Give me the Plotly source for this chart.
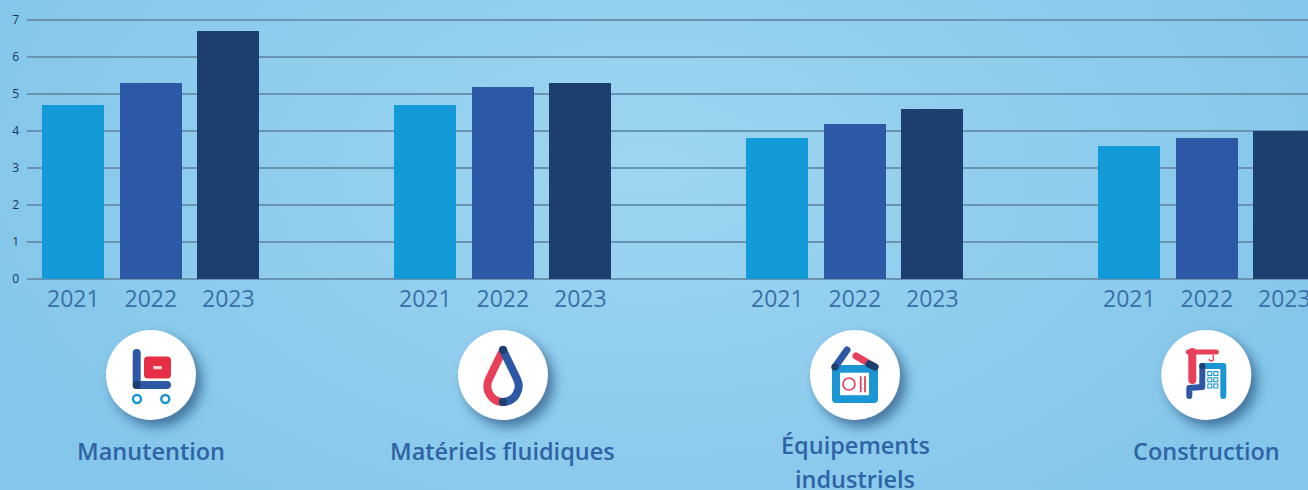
import base64
import plotly.graph_objects as go

categories = ["Manutention", "Matériels fluidiques", "Équipements<br>industriels", "Construction"]
years = ["2021", "2022", "2023"]
v2021 = [4.7, 4.7, 3.8, 3.6]
v2022 = [5.3, 5.2, 4.2, 3.8]
v2023 = [6.7, 5.3, 4.6, 4.0]
series = [v2021, v2022, v2023]
bar_colors = ["#129bd8", "#2c58a6", "#1d3f70"]
y_ticks = [0, 1, 2, 3, 4, 5, 6, 7]

W, H = 1308, 490
FIG_W = 1330  # canvas runs past the window, so the last bar and label are cut by it
L, T, B = 27, 15, 211
RIGHT = 4
SLOT = 77.5
STEP = 352 / SLOT
X0 = 73.3  # pixel of first bar centre
PX_PER_UNIT = 37
ICON_CX = [151, 503, 855, 1206.3]
ICON_CY = 375
BLUE, DARK, RED, CYAN = "#2c58a6", "#1d3f70", "#e8405a", "#1a96d4"

def line(pts, col, w):
    d = "M" + " L".join(f"{x},{y}" for x, y in pts)
    return f'<path d="{d}" fill="none" stroke="{col}" stroke-width="{w}" stroke-linecap="round" stroke-linejoin="round"/>'

icon_manut = (
    f'<rect x="-7" y="-18.5" width="27" height="22" rx="4" fill="#e62e46"/>'
    f'<rect x="2.3" y="-9" width="8.5" height="3.3" fill="#fbd5da"/>'
    + line([(-14.3, -22), (-14.3, 10), (16, 10)], BLUE, 8)
    + f'<circle cx="-14.3" cy="10" r="4" fill="{DARK}"/>'
    f'<circle cx="-14" cy="24" r="4" fill="none" stroke="{CYAN}" stroke-width="2.5"/>'
    f'<circle cx="14.3" cy="24" r="4" fill="none" stroke="{CYAN}" stroke-width="2.5"/>'
)
icon_drop = (
    f'<path d="M0,-25 L-14,4 A16,16 0 0 0 0,27" fill="none" stroke="{RED}" stroke-width="8" stroke-linecap="round"/>'
    f'<path d="M0,-25 L14,4 A16,16 0 0 1 0,27" fill="none" stroke="{BLUE}" stroke-width="8" stroke-linecap="round"/>'
    f'<circle cx="0" cy="-25" r="4" fill="{DARK}"/><circle cx="0" cy="27" r="4" fill="{DARK}"/>'
)
icon_equip = (
    f'<rect x="-23" y="-10" width="46" height="38" rx="4" fill="{CYAN}"/>'
    f'<rect x="-15" y="-2.3" width="29" height="22.5" fill="#ffffff"/>'
    f'<circle cx="-6" cy="9" r="6" fill="none" stroke="{RED}" stroke-width="1.7"/>'
    + line([(5.7, 2), (5.7, 16.5)], RED, 1.8)
    + line([(10, 2), (10, 16.5)], RED, 1.8)
    + line([(-20, -8), (-8, -25)], BLUE, 7)
    + line([(1, -19), (20, -8)], RED, 7)
    + line([(14, -11), (20, -8)], DARK, 7)
    + f'<circle cx="-20" cy="-8" r="3.5" fill="{DARK}"/>'
)
windows = "".join(
    f'<rect x="{x}" y="{y}" width="4" height="4" fill="none" stroke="{CYAN}" stroke-width="1.1"/>'
    for x in (1.5, 7.5) for y in (-3.5, 2.8, 9)
)
icon_constr = (
    line([(-18, -23), (10, -23)], RED, 5)
    + line([(-14, -23), (-14, 5)], RED, 8)
    + '<path d="M7,-20 V-16 A2,2 0 0 1 3,-16" fill="none" stroke="%s" stroke-width="1.3"/>' % RED
    + line([(-4, -9), (17, -9), (17, 21)], CYAN, 6)
    + line([(-4, -9), (-4, 12), (-17, 13), (-17, 21)], BLUE, 6)
    + f'<circle cx="-4" cy="-9" r="3" fill="{DARK}"/>' + windows
)
icons = [icon_manut, icon_drop, icon_equip, icon_constr]
body = "".join(
    f'<g transform="translate({cx},{ICON_CY})">'
    f'<circle cx="6" cy="7" r="45" fill="#1d4a78" fill-opacity="0.65" filter="url(#s)"/>'
    f'<circle r="45" fill="#ffffff"/>{ic}</g>'
    for cx, ic in zip(ICON_CX, icons)
)
svg = (
    f'<svg xmlns="http://www.w3.org/2000/svg" width="{FIG_W}" height="{H}" viewBox="0 0 {FIG_W} {H}">'
    '<defs><radialGradient id="g" gradientUnits="userSpaceOnUse" cx="650" cy="170" r="700" '
    'gradientTransform="translate(650 170) scale(1 0.6) translate(-650 -170)">'
    '<stop offset="0" stop-color="#9dd5f1"/><stop offset="1" stop-color="#85c7ea"/></radialGradient>'
    '<filter id="s" x="-30%" y="-30%" width="160%" height="160%"><feGaussianBlur stdDeviation="6"/></filter></defs>'
    f'<rect width="{FIG_W}" height="{H}" fill="url(#g)"/>{body}</svg>'
)
bg = "data:image/svg+xml;base64," + base64.b64encode(svg.encode()).decode()

fig = go.Figure()
tickvals, ticktext = [], []
for j, (yr, vals, col) in enumerate(zip(years, series, bar_colors)):
    xs = [i * STEP + j for i in range(len(categories))]
    fig.add_trace(go.Bar(x=xs, y=vals, name=yr, width=0.8, marker=dict(color=col, line_width=0)))
    tickvals += xs
    ticktext += [yr] * len(xs)

pw = FIG_W - L - RIGHT
ph = H - T - B
annotations = []
label_y = [[451], [451], [445, 479], [451]]
for cat, cx, ys in zip(categories, ICON_CX, label_y):
    for part, ly in zip(cat.split("<br>"), ys):
        annotations.append(dict(
            text=part, xref="paper", yref="paper", x=(cx - L) / pw, y=(H - B - ly) / ph,
            xanchor="center", yanchor="middle", showarrow=False, align="center",
            font=dict(family="Open Sans", size=23.5, color="#2f63a6", weight=600),
        ))

fig.update_layout(
    width=FIG_W, height=H, autosize=False, showlegend=False,
    margin=dict(l=L, r=RIGHT, t=T, b=B, pad=0),
    paper_bgcolor="#8ccbec", plot_bgcolor="rgba(0,0,0,0)",
    bargap=0, barmode="overlay",
    xaxis=dict(
        range=[(L - X0) / SLOT, (FIG_W - RIGHT - X0) / SLOT], tickmode="array",
        tickvals=tickvals, ticktext=ticktext, showgrid=False, zeroline=False,
        ticks="", showline=False, ticklabelstandoff=4, ticklabeloverflow="allow",
        tickfont=dict(family="Open Sans", size=23, color="#3a70a8", weight=400),
    ),
    yaxis=dict(
        range=[0, (H - B - T) / PX_PER_UNIT], tickmode="array", tickvals=y_ticks, showgrid=True,
        gridcolor="#6a93b0", gridwidth=2, zeroline=True, zerolinecolor="#6a93b0", zerolinewidth=2,
        ticks="", showline=False, ticklabelstandoff=7,
        tickfont=dict(family="Open Sans", size=12, color="#15355f"),
    ),
    images=[dict(source=bg, xref="paper", yref="paper", x=-L / pw, y=(H - B) / ph,
                 sizex=FIG_W / pw, sizey=H / ph, xanchor="left", yanchor="top",
                 sizing="stretch", layer="below")],
    annotations=annotations,
)
fig.write_html(
    "out.html",
    config={"displayModeBar": False},
    default_width=f"{FIG_W}px",
    default_height=f"{H}px",
    post_script="document.documentElement.style.overflow='hidden';document.body.style.margin='0';document.body.style.overflow='hidden';",
)
